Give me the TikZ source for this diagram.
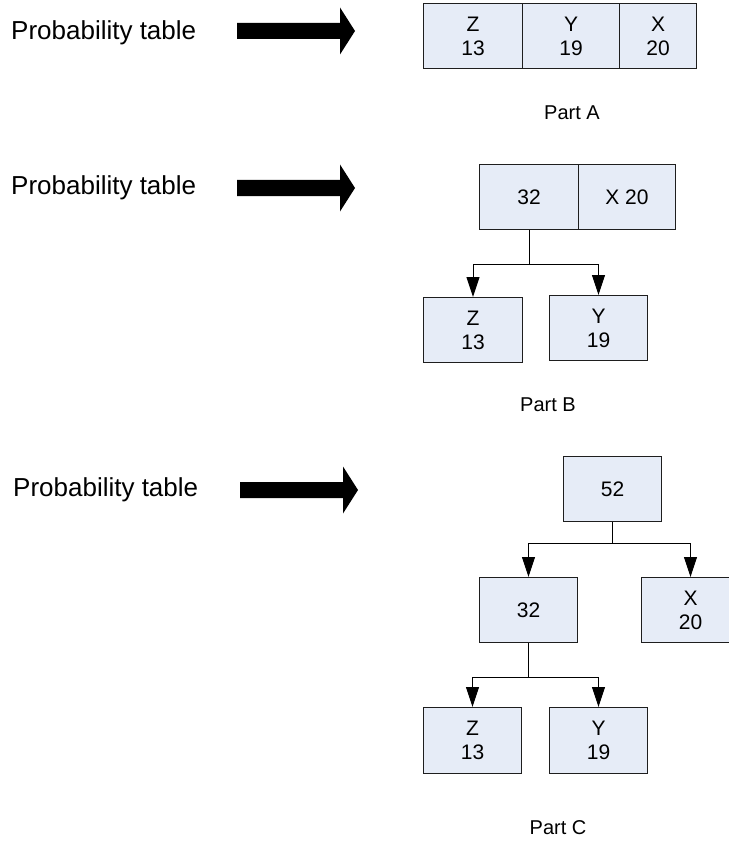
\documentclass[tikz,border=0pt]{standalone}
\usepackage{fontspec}
\setmainfont{Liberation Sans}
\usetikzlibrary{arrows.meta}
\definecolor{cellfill}{RGB}{230,236,247}
\definecolor{edge}{RGB}{30,30,30}
\begin{document}
\begin{tikzpicture}[x=1pt,y=-1pt,
  cell/.style={draw=edge,fill=cellfill,line width=1pt,anchor=north west,
    inner sep=0pt,minimum height=65pt,align=center,
    font=\fontsize{21}{24}\selectfont},
  label/.style={anchor=west,inner sep=0pt,font=\fontsize{26}{30}\selectfont},
  part/.style={inner sep=0pt,font=\fontsize{20}{24}\selectfont},
  link/.style={draw=black,line width=1pt},
  arr/.style={link,-{Triangle[length=20pt,width=13pt]}}]
\useasboundingbox (0,0) rectangle (728,845);

% block arrow: shaft from x0 to x1, head to tip, centred on y
\newcommand{\blockarrow}[4]{%
  \fill[black] (#1,#4-8) -- (#2,#4-8) -- (#2,#4-23.5) -- (#3,#4)
    -- (#2,#4+23.5) -- (#2,#4+8) -- (#1,#4+8) -- cycle;}

% ---- Part A ----
\node[label] (ta) at (11,33) {Probability table};
\blockarrow{237}{340}{355}{31}
\node[cell,minimum width=99pt] (az) at (423,3) {Z\\13};
\node[cell,minimum width=97pt] (ay) at (522,3) {Y\\19};
\node[cell,minimum width=77pt] (ax) at (619,3) {X\\20};
\node[part] (pa) at (572,113) {Part A};

% ---- Part B ----
\node[label] (tb) at (11,188) {Probability table};
\blockarrow{237}{340}{355}{188}
\node[cell,minimum width=99pt] (b32) at (479,164) {32};
\node[cell,minimum width=97pt] (bx) at (578,164) {X 20};
\node[cell,minimum width=99pt] (bz) at (423,297) {Z\\13};
\node[cell,minimum width=98pt] (by) at (549,295) {Y\\19};
\coordinate (bj) at (b32.south |- 0,264);
\draw[link] (b32.south) -- (bj);
\draw[arr] (bj) -| (bz.north);
\draw[arr] (bj) -| (by.north);
\node[part] (pb) at (548,405) {Part B};

% ---- Part C ----
\node[label] (tc) at (13,490) {Probability table};
\blockarrow{240}{343}{358}{490}
\node[cell,minimum width=98pt] (c52) at (563,456) {52};
\node[cell,minimum width=98pt] (c32) at (479,577) {32};
\node[cell,minimum width=98pt] (cx) at (641,577) {X\\20};
\node[cell,minimum width=98pt,minimum height=66pt] (cz) at (423,707) {Z\\13};
\node[cell,minimum width=98pt,minimum height=66pt] (cy) at (549,707) {Y\\19};
\coordinate (cj1) at (c52.south |- 0,543);
\draw[link] (c52.south) -- (cj1);
\draw[arr] (cj1) -| (c32.north);
\draw[arr] (cj1) -| (cx.north);
\coordinate (cj2) at (c32.south |- 0,677);
\draw[link] (c32.south) -- (cj2);
\draw[arr] (cj2) -| (cz.north);
\draw[arr] (cj2) -| (cy.north);
\node[part] (pc) at (558,828) {Part C};
\end{tikzpicture}
\end{document}
